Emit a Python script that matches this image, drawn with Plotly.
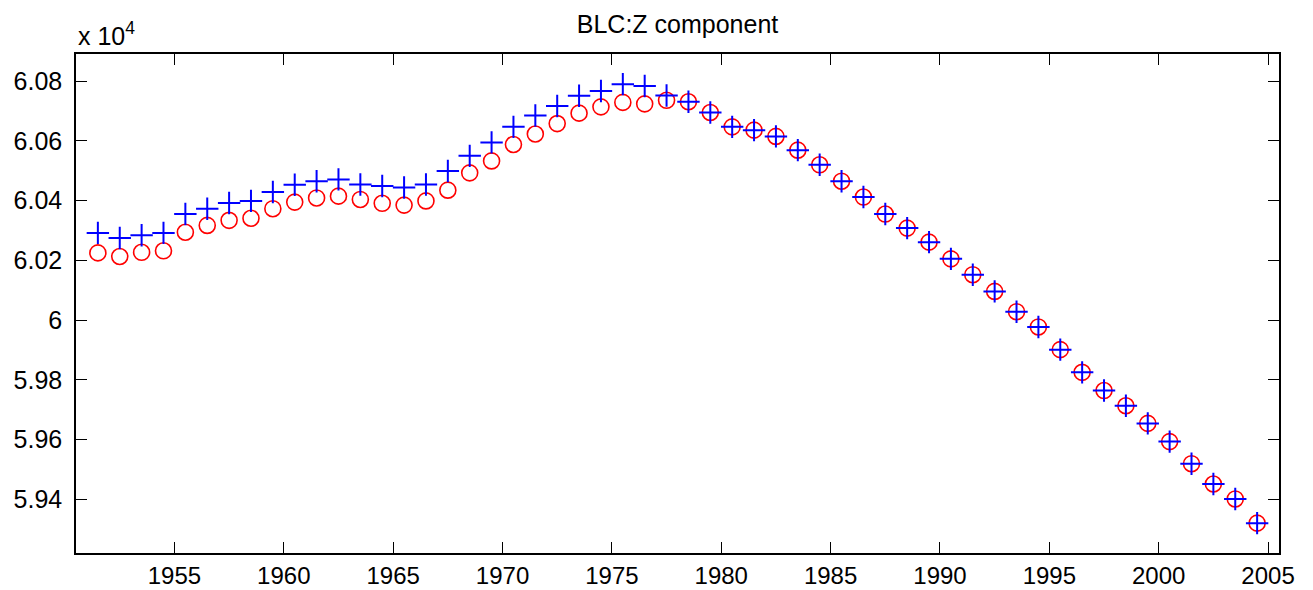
import plotly.graph_objects as go

# Years (mid-year epochs)
years = [1951.5 + i for i in range(54)]

# Model values (red circles), nT
model_z = [60225, 60213, 60227, 60232, 60294, 60317, 60334, 60341, 60373, 60395,
           60409, 60415, 60404, 60391, 60385, 60399, 60435, 60493, 60533, 60588,
           60623, 60658, 60693, 60714, 60729, 60724, 60736, 60731, 60695, 60647,
           60636, 60615, 60569, 60520, 60465, 60412, 60355, 60308, 60261, 60205,
           60152, 60096, 60028, 59977, 59901, 59825, 59764, 59713, 59654, 59593,
           59519, 59451, 59401, 59320]

# Observed values (blue plus), nT
obs_z = [60292, 60275, 60284, 60292, 60355, 60373, 60392, 60399, 60429, 60453,
         60465, 60471, 60454, 60449, 60444, 60454, 60499, 60550, 60595, 60647,
         60685, 60717, 60751, 60767, 60790, 60784, 60752, 60731, 60695, 60647,
         60636, 60615, 60569, 60520, 60465, 60412, 60355, 60308, 60261, 60205,
         60152, 60096, 60028, 59977, 59901, 59825, 59764, 59713, 59654, 59593,
         59519, 59451, 59401, 59320]

x_tick_vals = [1955, 1960, 1965, 1970, 1975, 1980, 1985, 1990, 1995, 2000, 2005]
y_tick_vals = [59400, 59600, 59800, 60000, 60200, 60400, 60600, 60800]
y_tick_text = ["5.94", "5.96", "5.98", "6", "6.02", "6.04", "6.06", "6.08"]

FONT = "Liberation Sans, Arial, Helvetica, sans-serif"

fig = go.Figure()
fig.add_trace(go.Scatter(
    x=years, y=model_z, mode="markers",
    marker=dict(symbol="circle-open", size=16, color="#ff0000",
                line=dict(width=1.6, color="#ff0000")),
    showlegend=False, hoverinfo="x+y"))
fig.add_trace(go.Scatter(
    x=years, y=obs_z, mode="markers",
    marker=dict(symbol="cross-thin-open", size=16, color="#0000ff",
                line=dict(width=2, color="#0000ff")),
    showlegend=False, hoverinfo="x+y"))

axis_common = dict(
    showline=True, linecolor="black", linewidth=1.5, mirror="ticks",
    ticks="inside", ticklen=11, tickwidth=1, tickcolor="black",
    showgrid=False, zeroline=False, automargin=False,
)

fig.update_xaxes(range=[1950.5, 2005.5], tickvals=x_tick_vals,
                 ticklabelstandoff=0,
                 tickfont=dict(family=FONT, size=24, color="black"),
                 **axis_common)
fig.update_yaxes(range=[59220, 60891], tickvals=y_tick_vals, ticktext=y_tick_text,
                 ticklabelstandoff=7,
                 tickfont=dict(family=FONT, size=25, color="black"),
                 **axis_common)

fig.update_layout(
    width=1305, height=582,
    margin=dict(l=68, r=34, t=46, b=37, autoexpand=False),
    paper_bgcolor="white", plot_bgcolor="white",
    font=dict(family=FONT, color="black"),
    title=dict(text="BLC:Z component", xref="paper", x=0.5, xanchor="center",
               y=1 - 16 / 582, yanchor="middle", automargin=False,
               font=dict(family=FONT, size=25, color="black")),
    annotations=[dict(text="x 10<sup>4</sup>", xref="paper", yref="paper",
                      x=0, y=1, xanchor="left", yanchor="bottom", yshift=2,
                      showarrow=False,
                      font=dict(family=FONT, size=25, color="black"))],
)

fig.write_html("out.html")
